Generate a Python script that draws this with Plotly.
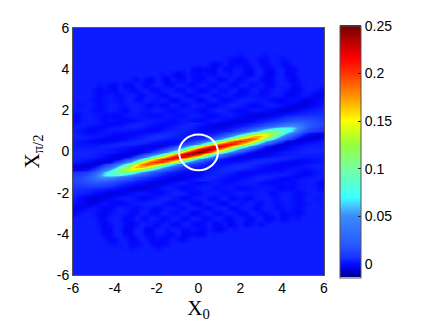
import plotly.graph_objects as go

# Values, in units of 0.001.
x_right = [i * 0.25 for i in range(25)]
x_left = [-(i + 1) * 0.25 for i in range(24)]
y_upper = [0, .125, .25, .375, .5, .625, .75, .875, 1, 1.125, 1.25, 1.375, 1.5,
           1.75, 2, 2.25, 2.5, 2.75, 3, 3.25, 3.5, 3.75, 4, 4.25, 4.5, 4.75, 5, 6]

# upper half, x = 0 ... 6
z_right = [
 [250,235,204,162,115,77,47,27,14,4,-2,-6,-7,-6,-4,-2,0,1,2,2,3,3,3,3,3],
 [210,233,240,225,191,150,110,74,46,26,14,5,-2,-6,-7,-6,-4,-2,0,1,2,3,3,3,3],
 [125,164,199,220,225,211,183,147,109,74,47,25,12,1,-5,-7,-6,-4,-2,0,1,2,2,2,3],
 [52,81,116,152,187,209,215,204,177,142,105,69,40,19,9,-2,-6,-7,-5,-3,-1,0,1,2,2],
 [15,28,48,74,109,147,178,199,205,194,170,131,89,55,31,16,7,-5,-7,-7,-5,-3,-2,0,1],
 [5,7,14,26,45,73,104,138,168,188,195,178,144,105,70,43,24,12,5,-5,-7,-7,-6,-4,-2],
 [1,2,4,7,13,25,43,67,96,128,156,169,165,144,113,81,52,31,16,7,-1,-5,-7,-7,-6],
 [-1,-1,0,1,4,9,16,23,39,62,90,115,132,139,130,110,84,59,37,19,8,1,-2,-3,-3],
 [-3,-3,-3,-2,0,2,3,9,13,21,36,55,76,95,104,104,95,78,58,36,19,11,8,6,5],
 [-3,-4,-4,-4,-4,-2,0,2,5,9,15,22,31,46,60,71,75,74,65,47,30,16,11,9,8],
 [-1,-2,-3,-5,-5,-5,-3,-1,1,3,6,8,13,20,27,34,42,49,51,44,33,22,16,13,11],
 [2,0,-2,-3,-5,-6,-6,-4,-3,-1,1,3,4,9,12,16,21,26,30,29,26,20,15,13,12],
 [-3,-2,0,1,0,-2,-4,-6,-6,-5,-3,-1,1,3,5,7,10,14,17,19,19,17,14,12,10],
 [1,-1,-3,-3,-1,1,2,0,-2,-4,-6,-7,-7,-6,-4,-2,0,2,3,4,4,5,5,5,5],
 [-2,-3,0,2,3,2,0,-2,-3,-2,0,1,0,-2,-4,-6,-7,-7,-5,-3,-1,1,2,3,4],
 [1,0,-3,-4,-1,1,3,3,1,-1,-3,-3,-1,1,2,1,-1,-3,-5,-7,-7,-5,-3,-1,2],
 [-4,-3,1,2,-1,-3,-2,1,3,3,2,1,1,0,-2,-4,-4,-2,0,-2,-5,-6,-4,-2,0],
 [0,2,1,-2,-1,1,1,-2,-3,-1,1,0,-2,-1,1,2,0,-3,-4,-1,1,0,-3,-5,-4],
 [-3,-4,0,2,-1,-2,1,2,-3,-3,1,2,-2,-3,1,2,1,-1,-4,-3,0,2,1,-1,-3],
 [1,2,-2,-3,1,2,-2,-3,1,2,-2,-1,2,-2,-3,1,2,2,-3,-2,1,2,2,2,1],
 [-3,-2,2,1,-3,-2,2,0,-3,0,2,2,-2,-4,-2,2,2,-1,-4,-1,2,2,2,2,2],
 [-2,0,-2,-2,1,2,-1,2,1,-3,-4,2,2,-3,-4,1,2,-3,-3,1,2,2,2,2,2],
 [-4,-2,-3,-4,2,-2,-2,1,1,-3,-3,2,2,-3,-3,2,2,-3,-3,1,2,2,2,2,2],
 [1,2,0,-4,-2,1,-2,-3,-2,-3,1,2,-2,-3,1,2,-2,-3,1,2,2,2,2,2,2],
 [2,2,2,2,2,1,-1,-2,-3,-1,2,0,-2,-2,2,1,-1,0,2,2,2,2,2,2,2],
 [2,2,2,2,2,2,2,1,0,2,2,2,1,0,2,1,2,2,2,2,2,2,2,2,2],
 [2] * 25,
 [2] * 25,
]

# upper half, x = -0.25 ... -6
z_left = [
 [235,204,162,115,77,47,27,14,4,-2,-6,-7,-6,-4,-2,0,1,2,2,3,3,3,3,3],
 [167,122,81,50,26,14,7,1,-3,-5,-5,-5,-4,-2,-1,0,1,2,2,2,2,2,2,2],
 [86,53,30,15,7,0,-4,-5,-5,-4,-3,-2,0,1,2,3,3,3,2,1,0,1,1,1],
 [29,16,8,1,-2,-4,-4,-3,-2,0,2,3,4,4,4,3,2,0,-1,-1,-1,0,0,1],
 [7,3,0,-2,-2,-2,-1,0,2,4,4,4,3,2,0,-2,-3,-4,-4,-3,-2,-1,0,1],
 [3,1,1,0,0,1,3,4,5,4,3,1,0,-2,-3,-4,-4,-4,-3,-1,0,1,2,2],
 [1,0,0,1,3,4,5,5,4,3,1,-1,-2,-3,-3,-3,-2,-1,0,0,1,2,2,2],
 [0,0,2,3,4,4,3,2,0,-1,-2,-3,-3,-3,-2,-2,0,0,0,-2,-2,0,1,2],
 [-1,1,2,3,3,2,0,-2,-3,-3,-2,-1,-1,0,0,0,1,0,-2,-3,-3,-1,0,1],
 [1,2,3,2,1,0,-2,-3,-3,-2,0,1,2,2,2,2,1,-1,-3,-3,-2,0,1,2],
 [2,3,3,2,0,-2,-3,-2,-1,1,2,3,3,2,0,-1,-2,-3,-3,-1,0,1,2,1],
 [3,2,1,-1,-2,-3,-2,0,1,2,3,2,1,-1,-3,-3,-3,-2,0,1,1,2,0,-1],
 [-2,0,1,0,-2,-1,0,1,2,2,1,-1,-2,-3,-3,-2,-1,-3,0,1,2,1,-2,-2],
 [2,1,-1,-1,0,1,-1,-2,-2,-1,0,1,1,0,-2,-3,-2,-2,0,1,2,1,-2,-1],
 [0,1,1,0,-2,-1,1,2,1,0,1,2,1,-3,-1,1,2,0,-2,-1,1,2,1,1],
 [2,-2,-3,0,2,-2,-3,0,-3,-2,1,2,2,0,-1,2,2,-1,-2,0,2,1,0,2],
 [0,2,1,-3,-4,0,2,-1,1,2,-1,-2,2,1,-1,0,1,0,-2,-1,1,2,1,2],
 [-2,-3,0,2,2,-2,-3,0,2,0,-3,0,2,1,-2,-1,1,-1,-3,0,2,2,2,2],
 [1,2,-2,-3,1,2,0,-3,-2,2,1,-2,-2,1,2,-3,-2,-1,-3,-1,2,2,2,2],
 [-3,-2,1,2,-2,-3,1,2,-1,-3,0,2,-3,-3,1,-3,-2,1,-1,2,2,2,2,2],
 [-1,2,-3,-3,1,-5,-1,2,-4,-2,1,-2,1,2,2,2,2,2,2,2,2,2,2,2],
 [-2,1,-2,-5,-1,2,-1,2,2,2,2,2,2,2,2,2,2,2,2,2,2,2,2,2],
 [-3,2,1,2,2,2,2,2,2,2,2,2,2,2,2,2,2,2,2,2,2,2,2,2],
 [2] * 24,
 [2] * 24,
 [2] * 24,
 [2] * 24,
 [2] * 24,
]

x_ticks = [-6, -4, -2, 0, 2, 4, 6]
y_ticks = [-6, -4, -2, 0, 2, 4, 6]
axis_labels = ["-6", "-4", "-2", "0", "2", "4", "6"]
cbar_ticks = [0, 0.05, 0.1, 0.15, 0.2, 0.25]
cbar_labels = ["0", "0.05", "0.1", "0.15", "0.2", "0.25"]
z_min, z_max = -0.0145, 0.2505
circle_rx, circle_ry, circle_cy = 0.93, 0.87, -0.04

color_z = [-0.0145, -0.007, -0.002, 0.002, 0.006, 0.02, 0.05, 0.062, 0.069,
           0.09, 0.1, 0.125, 0.15, 0.17, 0.2, 0.215, 0.23, 0.2505]
color_rgb = ["rgb(0,0,140)", "rgb(0,0,215)", "rgb(4,8,255)", "rgb(12,28,255)",
             "rgb(24,52,255)", "rgb(40,90,255)", "rgb(60,140,250)", "rgb(70,210,255)",
             "rgb(60,255,255)", "rgb(100,255,190)", "rgb(120,255,160)", "rgb(150,255,60)",
             "rgb(255,255,0)", "rgb(255,170,0)", "rgb(255,50,0)", "rgb(255,0,0)",
             "rgb(200,0,0)", "rgb(110,0,0)"]
colorscale = [[(v - z_min) / (z_max - z_min), c] for v, c in zip(color_z, color_rgb)]


def full_row(i):
    left, right = z_left[i], z_right[i]
    return [v / 1000 for v in left[::-1] + right]


upper = [full_row(i) for i in range(len(y_upper))]
# The lower half is the picture's half-turn image of the upper half.
lower = [row[::-1] for row in upper[1:]]
z = lower[::-1] + upper
y = [-v for v in y_upper[1:]][::-1] + y_upper
x = x_left[::-1] + x_right

frame = "#555555"
fig = go.Figure(go.Heatmap(
    x=x, y=y, z=z, zmin=z_min, zmax=z_max, zsmooth="best",
    colorscale=colorscale,
    colorbar=dict(
        thickness=21, thicknessmode="pixels", len=252, lenmode="pixels",
        x=1.064, xanchor="left", xpad=0, y=0.5, yanchor="middle", ypad=0,
        outlinecolor=frame, outlinewidth=1,
        tickvals=cbar_ticks, ticktext=cbar_labels,
        ticks="inside", ticklen=3, tickcolor="#222222",
        tickfont=dict(family="Liberation Sans", size=14, color="black"),
    ),
))
fig.add_shape(type="circle", xref="x", yref="y",
              x0=-circle_rx, x1=circle_rx,
              y0=circle_cy - circle_ry, y1=circle_cy + circle_ry,
              line=dict(color="white", width=2))
axis = dict(range=[-6, 6], showgrid=False, zeroline=False, ticks="",
            showline=True, mirror=True, linecolor=frame, linewidth=1,
            tickfont=dict(family="Liberation Sans", size=14, color="black"))
fig.update_xaxes(**axis, tickvals=x_ticks, ticktext=axis_labels,
                 title=dict(text="X<sub>0</sub>", standoff=0,
                            font=dict(family="Liberation Serif", size=21, color="black")))
fig.update_yaxes(**axis, tickvals=y_ticks, ticktext=axis_labels,
                 title=dict(text="X<sub>π/2</sub>", standoff=11,
                            font=dict(family="Liberation Serif", size=21, color="black")))
fig.update_layout(width=428, height=320, margin=dict(l=65, r=112, t=16, b=53),
                  paper_bgcolor="white", plot_bgcolor="white")
fig.write_html("out.html", config=dict(displayModeBar=False))
